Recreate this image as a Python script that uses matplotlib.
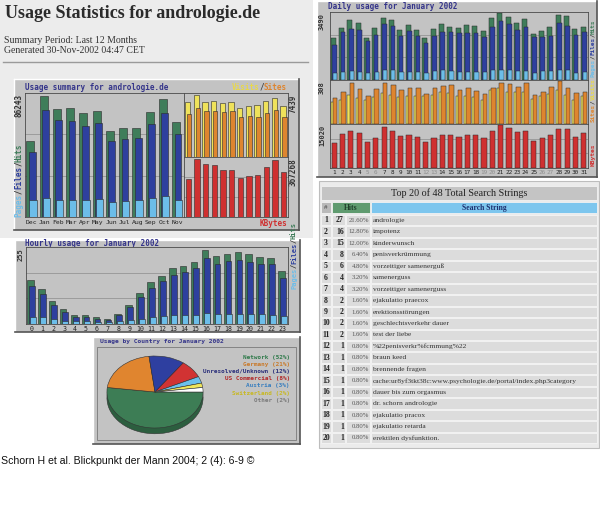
import matplotlib
matplotlib.use("Agg")
import matplotlib.pyplot as plt
from matplotlib.patches import Rectangle
import numpy as np

W, H = 600, 509

# --- monthly summary ---
months = ["Dec", "Jan", "Feb", "Mar", "Apr", "May", "Jun", "Jul", "Aug", "Sep", "Oct", "Nov"]
month_hits = [54260, 86243, 77000, 77480, 74400, 75580, 61600, 63740, 63740, 75110, 84110, 67760]
month_files = [46680, 76290, 69180, 68480, 64920, 66820, 54260, 55680, 56390, 66100, 73920, 59230]
month_pages = [11850, 13500, 12320, 12320, 12320, 12790, 10660, 11370, 11850, 13500, 14690, 11850]
month_visits = [6678, 7439, 6594, 6763, 6509, 6594, 5917, 6171, 6298, 6720, 7185, 6129]
month_sites = [5157, 5917, 5579, 5579, 5495, 5579, 4776, 4987, 4818, 5368, 5706, 4776]
month_kbytes = [241347, 367268, 335800, 325300, 293800, 298000, 247600, 258100, 266500, 312700, 361000, 283300]

# --- daily usage, January 2002 ---
days = list(range(1, 32))
weekend_days = [5, 6, 12, 13, 19, 20, 26, 27]
day_hits = [2197, 2746, 3136, 2994, 2215, 2728, 3242, 3136, 2604, 2870, 2604, 2215, 2657, 2923, 2781, 2728,
            2870, 2817, 2551, 3224, 3490, 3277, 2959, 3189, 2392, 2551, 2781, 3401, 3348, 2657, 2764]
day_files = [1842, 2516, 2693, 2640, 2037, 2374, 2923, 2817, 2285, 2551, 2285, 1931, 2285, 2533, 2516, 2480,
             2480, 2480, 2250, 2781, 3083, 2923, 2604, 2781, 2250, 2250, 2303, 2994, 2817, 2356, 2533]
day_pages = [390, 443, 478, 443, 354, 443, 514, 514, 425, 443, 443, 390, 478, 514, 478, 407,
             443, 443, 425, 549, 549, 514, 478, 478, 354, 478, 478, 549, 514, 390, 425]
day_sites = [156, 174, 209, 191, 174, 194, 224, 211, 194, 199, 199, 199, 211, 231, 224, 199,
             201, 194, 174, 243, 261, 231, 229, 233, 181, 199, 219, 248, 211, 174, 199]
day_visits = [186, 229, 298, 253, 204, 253, 293, 278, 243, 256, 256, 219, 261, 273, 278, 248,
              261, 241, 216, 261, 298, 286, 268, 298, 206, 231, 268, 308, 263, 224, 233]
day_kbytes = [8620, 12060, 13170, 12310, 9110, 10710, 14280, 13170, 11080, 11450, 10830, 8990, 10460, 11690,
              11450, 10830, 11450, 11690, 10460, 13170, 15020, 13910, 12560, 12930, 9360, 10710, 11450,
              13540, 13540, 10830, 12310]

# --- hourly usage ---
hours = list(range(24))
hour_hits = [152, 120, 78, 51, 30, 30, 24, 17, 34, 66, 106, 145, 166, 192, 200, 214, 255, 232, 239, 248, 240, 230, 226, 180]
hour_files = [129, 103, 64, 41, 25, 25, 17, 14, 30, 57, 91, 124, 146, 169, 178, 192, 226, 204, 216, 221, 214, 204, 204, 158]
hour_pages = [24, 23, 17, 11, 9, 9, 7, 6, 9, 13, 18, 24, 26, 30, 30, 30, 38, 34, 35, 35, 35, 35, 32, 29]

# --- countries ---
countries = ["Network", "Germany", "Unresolved/Unknown", "US Commercial", "Austria", "Switzerland", "Other"]
country_pct = [52, 21, 12, 8, 3, 2, 2]

# --- search strings ---
search_hits = [27, 16, 15, 8, 6, 4, 4, 2, 2, 2, 2, 1, 1, 1, 1, 1, 1, 1, 1, 1]
search_strings = ["andrologie", "impotenz", "kinderwunsch", "penisverkrümmung", "vorzeitiger samenerguß",
                  "samenerguss", "vorzeitiger samenerguss", "ejakulatio praecox", "erektionsstörungen",
                  "geschlechtsverkehr dauer", "test der liebe", "%22penisverkr%fcmmung%22", "braun keed",
                  "brennende fragen", "cache:ur8yf3tkt38c:www.psychologie.de/portal/index.php3category",
                  "dauer bis zum orgasmus", "dr. schorn andrologie", "ejakulatio pracox", "ejakulatio retarda",
                  "erektilen dysfunktion."]
search_total = 125

C_HITS = "#3f7d5a"
C_FILES = "#2e409e"
C_PAGES = "#6cbde9"
C_VISITS = "#efe25a"
C_SITES = "#de852f"
C_KB = "#cf3030"
C_BG = "#c3c3c3"
C_TITLE = "#34348a"
MONO = "DejaVu Sans Mono"
SERIF = "Liberation Serif"
EDGE = "#2a2a2a"

fig = plt.figure(figsize=(6, 5.09), dpi=100)
fig.patch.set_facecolor("white")
bg = fig.add_axes([0, 0, 1, 1])
bg.set_xlim(0, W)
bg.set_ylim(H, 0)
bg.axis("off")


def px_axes(x0, y0, x1, y1):
    ax = fig.add_axes([x0 / W, 1 - y1 / H, (x1 - x0) / W, (y1 - y0) / H])
    ax.set_facecolor(C_BG)
    for s in ax.spines.values():
        s.set_color("#4a4a4a")
        s.set_linewidth(0.6)
    ax.set_xticks([])
    ax.set_yticks([])
    return ax


def frame(x0, y0, x1, y1):
    bg.add_patch(Rectangle((x0, y0), x1 - x0, y1 - y0, fc=C_BG, ec="none"))
    bg.plot([x0, x1], [y0, y0], color="white", lw=1)
    bg.plot([x0, x0], [y0, y1], color="white", lw=1)
    bg.plot([x0, x1], [y1, y1], color="#555555", lw=1.2)
    bg.plot([x1, x1], [y0, y1], color="#555555", lw=1.2)


def grid3(ax, top):
    for f in (1 / 3, 2 / 3):
        ax.axhline(top * f, color="#8c8c8c", lw=0.5, zorder=0)


def mono(x, y, parts, rot=False, size=5.5, ha="left"):
    cw = 0.602 * size * 100 / 72
    total = cw * sum(len(s) for s, _ in parts)
    if not rot and ha == "right":
        x -= total
    for s, c in parts:
        if rot:
            bg.text(x, y, s, rotation=90, color=c, fontsize=size, family=MONO,
                    fontweight="bold", ha="center", va="bottom")
            y -= cw * len(s)
        else:
            bg.text(x, y, s, color=c, fontsize=size, family=MONO,
                    fontweight="bold", ha="left", va="center")
            x += cw * len(s)


def mono_top(x, y, s, color, size=5.5):
    bg.text(x, y, s, rotation=90, color=color, fontsize=size, family=MONO,
            fontweight="bold", ha="center", va="top")


# page backgrounds
bg.add_patch(Rectangle((0, 0), 313, 238, fc="#ececec", ec="none"))
bg.add_patch(Rectangle((319, 181), 280, 267, fc="#ebebeb", ec="#bdbdbd", lw=0.8))

# header
bg.text(5, 13, "Usage Statistics for andrologie.de", family=SERIF, fontweight="bold",
        fontsize=13, color="#2b2b2b", va="center")
bg.text(4, 40, "Summary Period: Last 12 Months", family=SERIF, fontsize=7, color="#333", va="center")
bg.text(4, 50, "Generated 30-Nov-2002 04:47 CET", family=SERIF, fontsize=7, color="#333", va="center")
bg.plot([3, 308], [62, 62], color="#9a9a9a", lw=1)

# ---------- monthly summary ----------
frame(14, 79, 299, 230)
mono(25, 87, [("Usage summary for andrologie.de", C_TITLE)])
mono(287, 87, [("Visits", "#e8d84a"), ("/", "#444"), ("Sites", C_SITES)], ha="right")
mono(287, 224, [("KBytes", C_KB)], ha="right")
mono_top(19, 94, "86243", "#333")
mono(19, 217, [("Pages", C_PAGES), ("/", "#333"), ("Files", C_FILES), ("/", "#333"), ("Hits", C_HITS)], rot=True)
mono_top(293, 94, "7439", "#333")
mono_top(293, 158, "367268", "#333")

ax = px_axes(25, 93, 184, 217)
x = np.arange(len(months))
top = max(month_hits) * 1.025
ax.set_ylim(0, top)
ax.set_xlim(-0.5, len(months) - 0.5)
grid3(ax, top)
ax.bar(x - 0.1, month_hits, 0.6, color=C_HITS, edgecolor=EDGE, lw=0.4)
ax.bar(x + 0.05, month_files, 0.52, color=C_FILES, edgecolor=EDGE, lw=0.4)
ax.bar(x + 0.1, month_pages, 0.55, color=C_PAGES, edgecolor=EDGE, lw=0.4)
ax.set_xticks(x)
ax.set_xticklabels(months, family=MONO, fontsize=4.6, color="#222")
ax.tick_params(length=0, pad=2.5)

ax = px_axes(184, 93, 288, 157)
x = np.arange(len(months))
top = max(month_visits) * 1.04
ax.set_ylim(0, top)
ax.set_xlim(-0.5, len(months) - 0.5)
ax.bar(x - 0.08, month_visits, 0.62, color=C_VISITS, edgecolor=EDGE, lw=0.4)
ax.bar(x + 0.08, month_sites, 0.5, color=C_SITES, edgecolor=EDGE, lw=0.4)

ax = px_axes(184, 157, 288, 217)
top = max(month_kbytes) * 1.03
ax.set_ylim(0, top)
ax.set_xlim(-0.5, len(months) - 0.5)
grid3(ax, top)
ax.bar(x, month_kbytes, 0.6, color=C_KB, edgecolor=EDGE, lw=0.4)

# ---------- daily usage ----------
frame(317, 1, 597, 177)
mono(328, 6, [("Daily usage for January 2002", C_TITLE)])
d = np.arange(len(days))

ax = px_axes(330, 12, 588, 80)
top = max(day_hits) * 1.02
ax.set_ylim(0, top)
ax.set_xlim(-0.5, len(days) - 0.5)
grid3(ax, top)
ax.bar(d - 0.1, day_hits, 0.6, color=C_HITS, edgecolor=EDGE, lw=0.35)
ax.bar(d + 0.05, day_files, 0.55, color=C_FILES, edgecolor=EDGE, lw=0.35)
ax.bar(d + 0.1, day_pages, 0.5, color=C_PAGES, edgecolor=EDGE, lw=0.35)

ax = px_axes(330, 80, 588, 124)
top = max(day_visits) * 1.03
ax.set_ylim(0, top)
ax.set_xlim(-0.5, len(days) - 0.5)
ax.bar(d - 0.15, day_sites, 0.5, color=C_VISITS, edgecolor=EDGE, lw=0.35)
ax.bar(d + 0.12, day_visits, 0.55, color=C_SITES, edgecolor=EDGE, lw=0.35)

ax = px_axes(330, 124, 588, 168)
top = max(day_kbytes) * 1.03
ax.set_ylim(0, top)
ax.set_xlim(-0.5, len(days) - 0.5)
grid3(ax, top)
ax.bar(d, day_kbytes, 0.62, color=C_KB, edgecolor=EDGE, lw=0.35)
ax.set_xticks(d)
ax.set_xticklabels([str(v) for v in days], family=MONO, fontsize=4.3)
for lbl, v in zip(ax.get_xticklabels(), days):
    lbl.set_color("#8f8f8f" if v in weekend_days else "#222")
ax.tick_params(length=0, pad=1.5)

mono_top(322, 13, "3490", "#333", size=5)
mono_top(322, 81, "308", "#333", size=5)
mono_top(322, 125, "15020", "#333", size=5)
mono(593, 77, [("Pages", C_PAGES), ("/", "#333"), ("Files", C_FILES), ("/", "#333"), ("Hits", C_HITS)], rot=True, size=4.3)
mono(593, 122, [("Sites", C_SITES), ("/", "#333"), ("Visits", "#e8d84a")], rot=True, size=4.3)
mono(593, 166, [("KBytes", C_KB)], rot=True, size=4.5)

# ---------- hourly usage ----------
frame(15, 240, 300, 332)
mono(25, 243.5, [("Hourly usage for January 2002", C_TITLE)])
ax = px_axes(26, 247, 288, 324)
h = np.arange(len(hours))
top = max(hour_hits) * 1.035
ax.set_ylim(0, top)
ax.set_xlim(-0.5, len(hours) - 0.5)
grid3(ax, top)
ax.bar(h - 0.1, hour_hits, 0.6, color=C_HITS, edgecolor=EDGE, lw=0.4)
ax.bar(h + 0.05, hour_files, 0.52, color=C_FILES, edgecolor=EDGE, lw=0.4)
ax.bar(h + 0.1, hour_pages, 0.55, color=C_PAGES, edgecolor=EDGE, lw=0.4)
ax.set_xticks(h)
ax.set_xticklabels([str(v) for v in hours], family=MONO, fontsize=4.8, color="#222")
ax.tick_params(length=0, pad=1.5)
mono_top(21, 248, "255", "#333", size=5)
mono(294, 289, [("Pages", C_PAGES), ("/", "#333"), ("Files", C_FILES), ("/", "#333"), ("Hits", C_HITS)], rot=True, size=5)

# ---------- country pie ----------
frame(93, 337, 300, 444)
mono(100, 342, [("Usage by Country for January 2002", C_TITLE)], size=4.5)
bg.add_patch(Rectangle((97, 347), 199, 93, fc="none", ec="#7a7a7a", lw=0.6))
pie_colors = ["#3d7d55", "#e0852f", "#2e3fa0", "#d13333", "#6cc0ec", "#efe55a", "#ffffff"]
text_colors = ["#2f7a4a", "#c97a2a", "#2a2f7a", "#b02a2a", "#3a7fbf", "#c8b820", "#7a7a7a"]
side_colors = ["#2c5e3f", "#a86223", "#202d78", "#9c2525", "#4f90b2", "#b3ab43", "#bbbbbb"]

pax = fig.add_axes([105 / W, 1 - 436 / H, 100 / W, 84 / H])
pax.axis("off")
pax.pie(country_pct, colors=side_colors, startangle=0, counterclock=False, center=(0, -0.16),
        wedgeprops=dict(edgecolor="#333333", linewidth=0.4))
pax.pie(country_pct, colors=pie_colors, startangle=0, counterclock=False,
        wedgeprops=dict(edgecolor="#333333", linewidth=0.4))
pax.set_aspect("auto")
pax.set_xlim(-1.04, 1.04)
pax.set_ylim(-1.222, 1.111)

for i, (name, pct) in enumerate(zip(countries, country_pct)):
    bg.text(290, 357 + 7.2 * i, f"{name} ({pct}%)", family=MONO, fontweight="bold",
            fontsize=4.3, color=text_colors[i], ha="right", va="center")

# ---------- search strings table ----------
bg.add_patch(Rectangle((321, 186), 276, 14, fc="#c4c4c4", ec="#f2f2f2", lw=0.6))
bg.text(459, 193.5, "Top 20 of 48 Total Search Strings", family=SERIF, fontsize=7.3,
        color="#222", ha="center", va="center")
bg.add_patch(Rectangle((321, 202), 10, 11, fc="#b9b9b9", ec="#f2f2f2", lw=0.6))
bg.add_patch(Rectangle((332, 202), 38, 11, fc="#5f9b6f", ec="#f2f2f2", lw=0.6))
bg.add_patch(Rectangle((371, 202), 226, 11, fc="#7dc6ee", ec="#f2f2f2", lw=0.6))
bg.text(326, 207.5, "#", family=SERIF, fontsize=5, color="#444", ha="center", va="center")
bg.text(351, 207.5, "Hits", family=SERIF, fontweight="bold", fontsize=5.5, color="#1f3f2a",
        ha="center", va="center")
bg.text(484, 207.5, "Search String", family=SERIF, fontweight="bold", fontsize=5.5, color="#1d3170",
        ha="center", va="center")

row_h = 11.45
for i, (hits, s) in enumerate(zip(search_hits, search_strings)):
    y0 = 215 + i * row_h
    yc = y0 + row_h / 2 - 0.3
    for cx0, cx1 in [(321, 331), (332, 345), (346, 370), (371, 597)]:
        bg.add_patch(Rectangle((cx0, y0), cx1 - cx0, row_h - 1, fc="#dcdcdc", ec="#f4f4f4", lw=0.6))
    bg.text(326, yc, str(i + 1), family=SERIF, fontweight="bold", fontsize=5.6, color="#222",
            ha="center", va="center")
    bg.text(344, yc, str(hits), family=SERIF, fontweight="bold", fontsize=5.6, color="#222",
            ha="right", va="center")
    bg.text(369, yc, f"{hits / search_total * 100:.2f}%", family=SERIF, fontsize=4.8, color="#555",
            ha="right", va="center")
    bg.text(373, yc, s, family=SERIF, fontsize=5.4, color="#333", ha="left", va="center")

# caption
bg.text(1, 461, "Schorn H et al. Blickpunkt der Mann 2004; 2 (4): 6-9 ©", family="Liberation Sans",
        fontsize=7.6, color="#111", va="center")

fig.savefig("out.png", dpi=100)
